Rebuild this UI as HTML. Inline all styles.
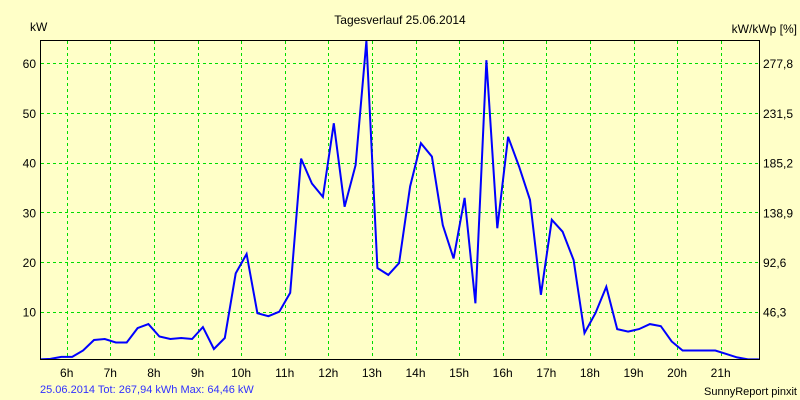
<!DOCTYPE html>
<html><head><meta charset="utf-8"><style>
body{margin:0;background:#ffffc8;}
svg{display:block;font-family:"Liberation Sans",sans-serif;}
</style></head><body>
<svg id="chart" width="800" height="400">
<rect x="0" y="0" width="800" height="400" fill="#ffffc8"/>
<text x="400" y="24" text-anchor="middle" font-size="12">Tagesverlauf 25.06.2014</text>
<text x="30" y="31" font-size="12">kW</text>
<text x="797" y="33" text-anchor="end" font-size="12">kW/kWp [%]</text>
<text x="40" y="393" font-size="11" fill="#3030ff">25.06.2014 Tot: 267,94 kWh Max: 64,46 kW</text>
<text x="797" y="395" text-anchor="end" font-size="11">SunnyReport pinxit</text>
<g id="grid"></g>
<g id="marks"></g>
<rect x="40.5" y="40.5" width="719" height="319" fill="none" stroke="#000" stroke-width="1"/>
<g id="labels"></g>
</svg>
<script>
const hourTicks=[6,7,8,9,10,11,12,13,14,15,16,17,18,19,20,21];
const leftTicks=[10,20,30,40,50,60];
const rightTickLabels=["46,3","92,6","138,9","185,2","231,5","277,8"];
const startHour=5.375;
const stepHours=0.25;
const powerKW=[0.4,0.5,0.9,0.9,2.2,4.3,4.5,3.8,3.8,6.7,7.5,5.0,4.5,4.7,4.5,6.9,2.5,4.7,17.7,21.6,9.7,9.1,10.0,13.8,40.8,35.8,33.1,47.9,31.1,39.5,64.5,18.8,17.4,19.8,35.2,43.9,41.2,27.4,20.7,32.9,11.7,60.6,26.8,45.2,39.2,32.5,13.4,28.5,26.1,20.4,5.7,9.7,15.0,6.5,6.0,6.5,7.5,7.1,4.0,2.2,2.2,2.2,2.2,1.5,0.8,0.4,0.4];

const NS="http://www.w3.org/2000/svg";
const X=h=>66.7+(h-6)*43.6;
const Y=v=>361.4-v*4.97;
const grid=document.getElementById('grid'),labels=document.getElementById('labels'),marks=document.getElementById('marks');
function mk(tag,attrs,parent){const e=document.createElementNS(NS,tag);for(const k in attrs)e.setAttribute(k,attrs[k]);parent.appendChild(e);return e;}
hourTicks.forEach(h=>{
  const x=Math.round(X(h))+0.5;
  const l=mk('line',{x1:x,x2:x,y1:41,y2:359,stroke:'#00dd00','stroke-dasharray':'3,3'},grid);
  
  
  const t=mk('text',{x:X(h),y:377,'text-anchor':'middle','font-size':'12'},labels);
  t.textContent=h+'h';
  
  
});
leftTicks.forEach((v,i)=>{
  const y=Math.round(Y(v))+0.5;
  const l=mk('line',{x1:41,x2:759,y1:y,y2:y,stroke:'#00dd00','stroke-dasharray':'3,3'},grid);
  
  
  const t=mk('text',{x:36,y:Y(v)+5,'text-anchor':'end','font-size':'12'},labels);
  t.textContent=v;
  
  
  const r=mk('text',{x:763,y:Y(v)+5,'font-size':'12'},labels);
  r.textContent=rightTickLabels[i];
  
  
});
mk('clipPath',{id:'clip'},marks);
mk('rect',{x:40,y:40,width:720,height:320},document.getElementById('clip'));
const pts=powerKW.map((v,i)=>X(startHour+i*stepHours).toFixed(1)+','+Y(v).toFixed(1)).join(' ');
const pl=mk('polyline',{points:pts,fill:'none',stroke:'#0000ff','stroke-width':'2','clip-path':'url(#clip)'},marks);


</script>
</body></html>
